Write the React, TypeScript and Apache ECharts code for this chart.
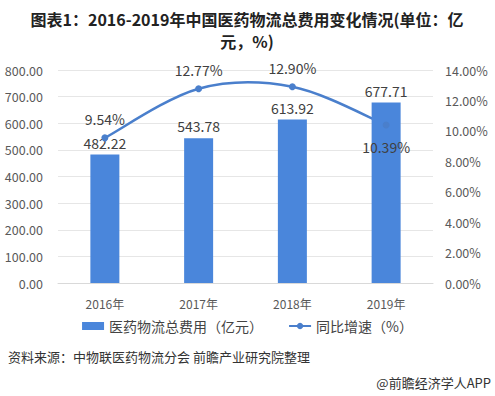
import React, { useEffect, useRef } from "react";
import * as echarts from "echarts";

const categories = ["2016年", "2017年", "2018年", "2019年"];
const costValues = [482.22, 543.78, 613.92, 677.71];
const growthValues = [9.54, 12.77, 12.9, 10.39];
const leftTicks = [0, 800, 100];
const rightTicks = [0, 14, 2];

export default function App() {
  const ref = useRef<HTMLDivElement>(null);
  useEffect(() => {
    const chart = echarts.init(ref.current!, undefined, { renderer: "svg" });
    const font = "'Microsoft YaHei', 'Noto Sans CJK SC', sans-serif";
    const lineColor = "#4a7fcc";
    chart.setOption({
      animation: false,
      textStyle: { fontFamily: font },
      grid: { left: 58, right: 62, top: 70, bottom: 113, containLabel: false },
      legend: {
        bottom: 58,
        left: "center",
        itemGap: 25,
        itemWidth: 22,
        itemHeight: 8,
        textStyle: { fontSize: 14, color: "#444", fontFamily: font },
        data: [
          { name: "医药物流总费用（亿元）", icon: "rect" },
          { name: "同比增速（%）", lineStyle: { color: lineColor, width: 2, opacity: 1 } },
        ],
      },
      xAxis: {
        type: "category",
        data: categories,
        axisLine: { show: true, lineStyle: { color: "#d9d9d9" } },
        axisTick: { show: false },
        axisLabel: { color: "#595959", fontSize: 12, margin: 14 },
      },
      yAxis: [
        {
          type: "value",
          min: leftTicks[0],
          max: leftTicks[1],
          interval: leftTicks[2],
          axisLabel: { color: "#595959", fontSize: 12.5, formatter: (v: number) => v.toFixed(2), margin: 15 },
          splitLine: { lineStyle: { color: "#e6e6e6" } },
          axisLine: { show: false },
          axisTick: { show: false },
        },
        {
          type: "value",
          min: rightTicks[0],
          max: rightTicks[1],
          interval: rightTicks[2],
          axisLabel: { color: "#595959", fontSize: 12.5, formatter: (v: number) => v.toFixed(2) + "%", margin: 12 },
          splitLine: { show: false },
          axisLine: { show: false },
          axisTick: { show: false },
        },
      ],
      series: [
        {
          name: "医药物流总费用（亿元）",
          type: "bar",
          data: costValues,
          barWidth: 29,
          itemStyle: { color: "#4a86db" },
          label: {
            show: true,
            position: "top",
            color: "#404040",
            fontSize: 14,
            formatter: (p: any) => p.value.toFixed(2),
          },
        },
        {
          type: "custom",
          yAxisIndex: 1,
          silent: true,
          data: growthValues.map((v, i) => [i, v]),
          renderItem: (params: any, api: any) => {
            const i = params.dataIndex;
            const n = growthValues.length;
            if (i >= n - 1) return null;
            const pt = (j: number) => {
              const k = Math.max(0, Math.min(n - 1, j));
              return api.coord([k, growthValues[k]]);
            };
            const p0 = pt(i - 1), p1 = pt(i), p2 = pt(i + 1), p3 = pt(i + 2);
            return {
              type: "bezierCurve",
              shape: {
                x1: p1[0], y1: p1[1], x2: p2[0], y2: p2[1],
                cpx1: p1[0] + (p2[0] - p0[0]) / 6,
                cpy1: p1[1] + (p2[1] - p0[1]) / 6,
                cpx2: p2[0] - (p3[0] - p1[0]) / 6,
                cpy2: p2[1] - (p3[1] - p1[1]) / 6,
              },
              style: { stroke: lineColor, lineWidth: 2.5, fill: "none" },
            };
          },
        },
        {
          name: "同比增速（%）",
          type: "line",
          yAxisIndex: 1,
          data: growthValues.map((v, i) => ({
            value: v,
            label: i === 3 ? { position: "bottom", distance: 12 } : { position: "top", distance: 8 },
          })),
          symbol: "circle",
          symbolSize: 7,
          lineStyle: { color: lineColor, width: 2.5, opacity: 0 },
          itemStyle: { color: lineColor },
          label: {
            show: true,
            color: "#404040",
            fontSize: 14,
            formatter: (p: any) => p.value.toFixed(2) + "%",
          },
        },
      ],
      graphic: [
        {
          type: "text",
          x: 247,
          y: 19,
          style: {
            text: "图表1：2016-2019年中国医药物流总费用变化情况(单位：亿",
            fontSize: 16,
            fontWeight: "bold",
            fill: "#222",
            align: "center",
            verticalAlign: "middle",
            fontFamily: font,
          },
        },
        {
          type: "text",
          x: 247,
          y: 41,
          style: {
            text: "元，%)",
            fontSize: 16,
            fontWeight: "bold",
            fill: "#222",
            align: "center",
            verticalAlign: "middle",
            fontFamily: font,
          },
        },
        {
          type: "text",
          left: 8,
          top: 350,
          style: { text: "资料来源：中物联医药物流分会 前瞻产业研究院整理", fontSize: 13, fill: "#333", fontFamily: font },
        },
        {
          type: "text",
          right: 4,
          top: 376,
          style: { text: "@前瞻经济学人APP", fontSize: 13, fill: "#333", fontFamily: font },
        },
      ],
    });
    return () => chart.dispose();
  }, []);
  return <div ref={ref} style={{ width: 495, height: 396, position: "absolute", left: 0, top: 0 }} />;
}
